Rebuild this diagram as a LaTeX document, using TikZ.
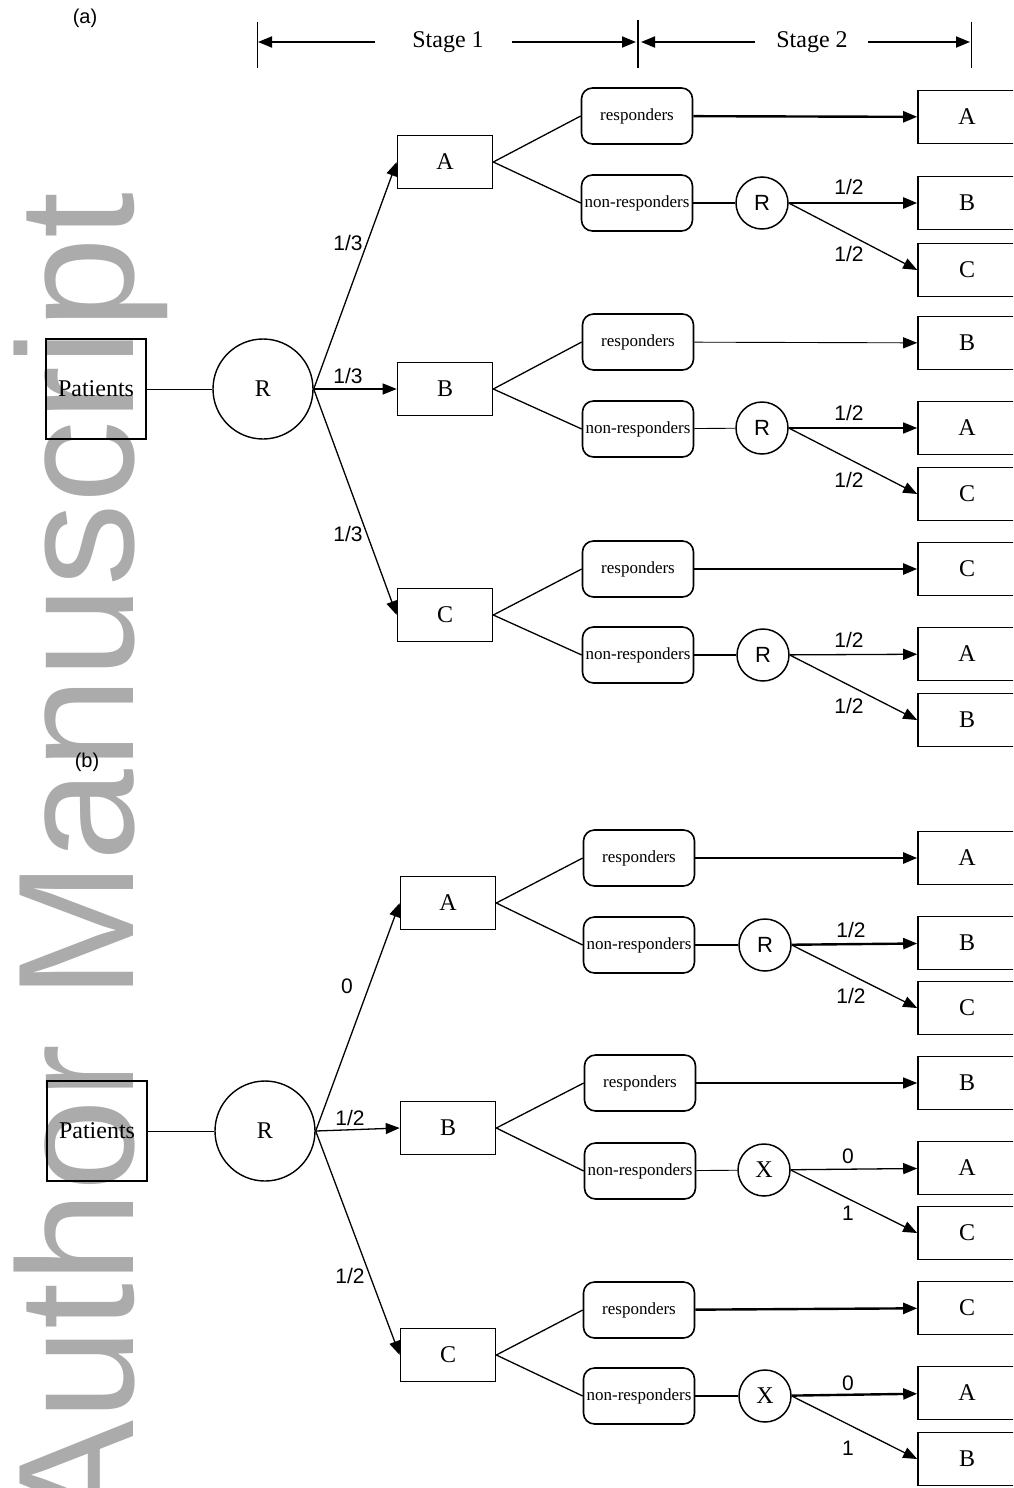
\documentclass[tikz,border=0pt]{standalone}
\usepackage{fontspec}
\setmainfont{Liberation Serif}
\setsansfont{Liberation Sans}
\usepackage{xcolor}
\usepackage{tikz}
\usetikzlibrary{arrows.meta, positioning, backgrounds}

\begin{document}
\begin{tikzpicture}[x=1pt, y=-1pt]
\tikzstyle{patbox} = [rectangle, draw, line width=1.6pt, minimum width=100pt, minimum height=100pt, inner sep=0pt, font=\fontsize{24}{26}\selectfont]
\tikzstyle{randbig} = [circle, draw, line width=1.4pt, minimum size=100pt, inner sep=0pt, font=\fontsize{24}{26}\selectfont]
\tikzstyle{trtbox} = [rectangle, draw, line width=1.6pt, minimum width=95pt, minimum height=53pt, inner sep=0pt, font=\fontsize{24}{26}\selectfont]
\tikzstyle{finalbox} = [trtbox, minimum width=98pt]
\tikzstyle{resbox} = [rectangle, draw, rounded corners=11pt, line width=1.6pt, minimum width=111pt, minimum height=56pt, inner sep=0pt, font=\fontsize{17}{19}\selectfont]
\tikzstyle{randsmall} = [circle, draw, line width=1.5pt, minimum size=52pt, inner sep=0pt, font=\sffamily\fontsize{22}{24}\selectfont]
\tikzstyle{xsmall} = [randsmall, font=\rmfamily\fontsize{24}{26}\selectfont]
\tikzstyle{prob} = [inner sep=0pt, font=\sffamily\fontsize{21}{23}\selectfont]
\tikzstyle{stagelbl} = [inner sep=0pt, font=\fontsize{24}{26}\selectfont]
\tikzstyle{link} = [line width=1.3pt]
\tikzstyle{thinlink} = [line width=0.9pt]
\tikzstyle{boldlink} = [line width=2.4pt]
\tikzstyle{toarrow} = [-{Triangle[length=14pt, width=11pt]}]

\useasboundingbox (0,0) rectangle (1013,1488);
\clip (0,0) rectangle (1013,1488);
\fill[white] (0,0) rectangle (1013,1488);

% watermark
\node (wmark) [rotate=90, anchor=base west, inner sep=0pt, text=black!33, font=\sffamily\fontsize{165}{165}\selectfont] at (133,1531) {Author Manuscript};

% panel labels
\node (panela) [prob, font=\sffamily\fontsize{20}{22}\selectfont] at (85,18) {(a)};
\node (panelb) [prob, font=\sffamily\fontsize{20}{22}\selectfont] at (87,762) {(b)};

% stage bar
\coordinate (s0t) at (257,22); \coordinate (s0b) at (257,68); \coordinate (s0) at (258,42);
\coordinate (s1t) at (638,20); \coordinate (s1b) at (638,68);
\coordinate (s1l) at (636,42); \coordinate (s1r) at (641,42);
\coordinate (s2t) at (971,22); \coordinate (s2b) at (971,68); \coordinate (s2) at (970,42);
\draw[thinlink] (s0t) -- (s0b);
\draw[line width=2.6pt] (s1t) -- (s1b);
\draw[thinlink] (s2t) -- (s2b);
\node (stageone) [stagelbl] at (448,42) {Stage 1};
\node (stagetwo) [stagelbl] at (812,42) {Stage 2};
\draw[link, line width=1.8pt, toarrow] ([xshift=-37pt]stageone.west) -- (s0);
\draw[link, line width=1.8pt, toarrow] ([xshift=28pt]stageone.east) -- (s1l);
\draw[link, line width=1.8pt, toarrow] ([xshift=-21pt]stagetwo.west) -- (s1r);
\draw[link, line width=1.8pt, toarrow] ([xshift=20pt]stagetwo.east) -- (s2);

% ---------- (a) ----------
\node (pat1) [patbox] at (96,389) {Patients};
\node (rand1) [randbig] at (263,389) {R};
\node (trtA1) [trtbox] at (445,162) {A};
\node (trtB1) [trtbox] at (445,389) {B};
\node (trtC1) [trtbox] at (445,615) {C};
\node (p1a) [prob] at (348,243) {1/3};
\node (p1b) [prob] at (348,376) {1/3};
\node (p1c) [prob] at (348,534) {1/3};

\node (resA1) [resbox] at (637,116) {responders};
\node (nonA1) [resbox] at (637,203) {non-responders};
\node (rndA1) [randsmall] at (762,203) {R};
\node (finA1a) [finalbox] at (967,117) {A};
\node (finA1b) [finalbox] at (967,203) {B};
\node (finA1c) [finalbox] at (967,270) {C};
\node (qA1a) [prob] at (849,187) {1/2};
\node (qA1b) [prob] at (849,254) {1/2};

\node (resB1) [resbox] at (638,342) {responders};
\node (nonB1) [resbox] at (638,429) {non-responders};
\node (rndB1) [randsmall] at (762,428) {R};
\node (finB1a) [finalbox] at (967,343) {B};
\node (finB1b) [finalbox] at (967,428) {A};
\node (finB1c) [finalbox] at (967,494) {C};
\node (qB1a) [prob] at (849,413) {1/2};
\node (qB1b) [prob] at (849,480) {1/2};

\node (resC1) [resbox] at (638,569) {responders};
\node (nonC1) [resbox] at (638,655) {non-responders};
\node (rndC1) [randsmall] at (763,655) {R};
\node (finC1a) [finalbox] at (967,569) {C};
\node (finC1b) [finalbox] at (967,654) {A};
\node (finC1c) [finalbox] at (967,720) {B};
\node (qC1a) [prob] at (849,640) {1/2};
\node (qC1b) [prob] at (849,706) {1/2};

\draw[thinlink] (pat1) -- (rand1);
\draw[link, toarrow] (rand1.east) -- (trtA1.west);
\draw[link, toarrow] (rand1.east) -- (trtB1.west);
\draw[link, toarrow] (rand1.east) -- (trtC1.west);
\foreach \g in {A,B,C} {
  \draw[link] (trt\g1.east) -- (res\g1.west);
  \draw[link] (trt\g1.east) -- (non\g1.west);
}
\draw[boldlink, toarrow] (resA1) -- (finA1a);
\draw[boldlink] (nonA1) -- (rndA1);
\draw[boldlink, toarrow] (rndA1) -- (finA1b);
\draw[link, toarrow] (rndA1.east) -- (finA1c.west);
\draw[thinlink, toarrow] (resB1) -- (finB1a);
\draw[thinlink] (nonB1) -- (rndB1);
\draw[link, toarrow] (rndB1) -- (finB1b);
\draw[link, toarrow] (rndB1.east) -- (finB1c.west);
\draw[boldlink, toarrow] (resC1) -- (finC1a);
\draw[link] (nonC1) -- (rndC1);
\draw[link, toarrow] (rndC1) -- (finC1b);
\draw[link, toarrow] (rndC1.east) -- (finC1c.west);

% ---------- (b) ----------
\node (pat2) [patbox] at (97,1131) {Patients};
\node (rand2) [randbig] at (265,1131) {R};
\node (trtA2) [trtbox] at (448,903) {A};
\node (trtB2) [trtbox] at (448,1128) {B};
\node (trtC2) [trtbox] at (448,1355) {C};
\node (p2a) [prob] at (347,986) {0};
\node (p2b) [prob] at (350,1118) {1/2};
\node (p2c) [prob] at (350,1276) {1/2};

\node (resA2) [resbox] at (639,858) {responders};
\node (nonA2) [resbox] at (639,945) {non-responders};
\node (rndA2) [randsmall] at (765,945) {R};
\node (finA2a) [finalbox] at (967,858) {A};
\node (finA2b) [finalbox] at (967,943) {B};
\node (finA2c) [finalbox] at (967,1008) {C};
\node (qA2a) [prob] at (851,930) {1/2};
\node (qA2b) [prob] at (851,996) {1/2};

\node (resB2) [resbox] at (640,1083) {responders};
\node (nonB2) [resbox] at (640,1171) {non-responders};
\node (rndB2) [xsmall] at (764,1170) {X};
\node (finB2a) [finalbox] at (967,1083) {B};
\node (finB2b) [finalbox] at (967,1168) {A};
\node (finB2c) [finalbox] at (967,1233) {C};
\node (qB2a) [prob] at (848,1156) {0};
\node (qB2b) [prob] at (848,1213) {1};

\node (resC2) [resbox] at (639,1310) {responders};
\node (nonC2) [resbox] at (639,1396) {non-responders};
\node (rndC2) [xsmall] at (765,1396) {X};
\node (finC2a) [finalbox] at (967,1308) {C};
\node (finC2b) [finalbox] at (967,1393) {A};
\node (finC2c) [finalbox] at (967,1459) {B};
\node (qC2a) [prob] at (848,1383) {0};
\node (qC2b) [prob] at (848,1448) {1};

\draw[thinlink] (pat2) -- (rand2);
\draw[link, toarrow] (rand2.east) -- (trtA2.west);
\draw[link, toarrow] (rand2.east) -- (trtB2.west);
\draw[link, toarrow] (rand2.east) -- (trtC2.west);
\foreach \g in {A,B,C} {
  \draw[link] (trt\g2.east) -- (res\g2.west);
  \draw[link] (trt\g2.east) -- (non\g2.west);
}
\draw[boldlink, toarrow] (resA2) -- (finA2a);
\draw[boldlink] (nonA2) -- (rndA2);
\draw[boldlink, toarrow] (rndA2) -- (finA2b);
\draw[link, toarrow] (rndA2.east) -- (finA2c.west);
\draw[link, toarrow] (resB2) -- (finB2a);
\draw[thinlink] (nonB2) -- (rndB2);
\draw[link, toarrow] (rndB2) -- (finB2b);
\draw[link, toarrow] (rndB2.east) -- (finB2c.west);
\draw[boldlink, toarrow] (resC2) -- (finC2a);
\draw[link] (nonC2) -- (rndC2);
\draw[boldlink, toarrow] (rndC2) -- (finC2b);
\draw[link, toarrow] (rndC2.east) -- (finC2c.west);

\end{tikzpicture}
\end{document}
